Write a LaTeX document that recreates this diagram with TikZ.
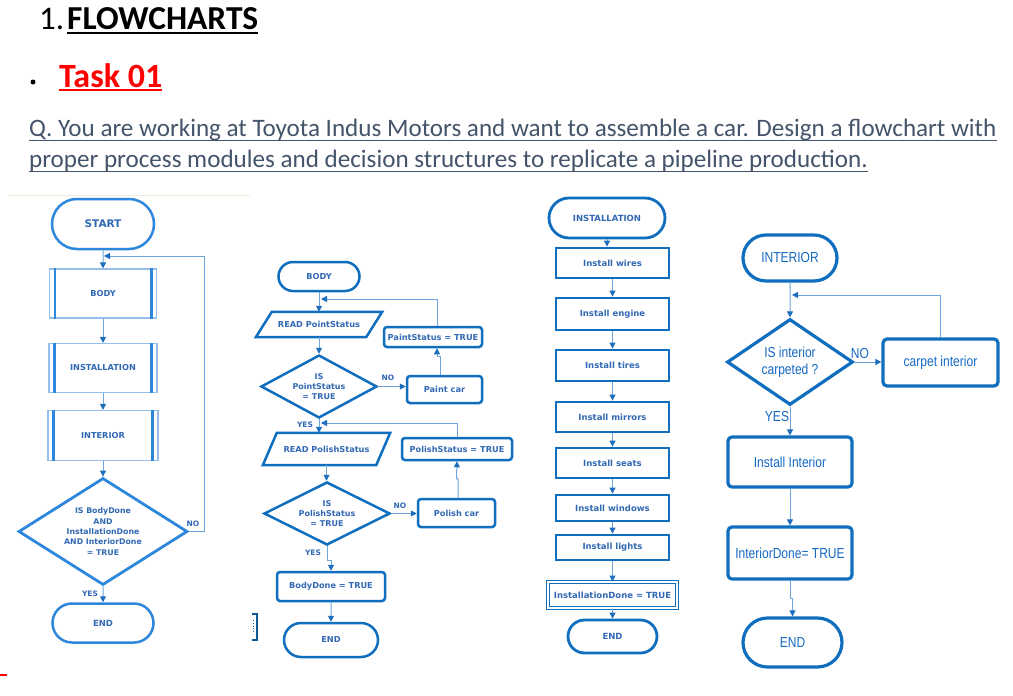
\documentclass[tikz,border=0pt]{standalone}
\usepackage{fontspec}
\setmainfont{Carlito}
\newfontfamily\dvfam{DejaVu Sans}
\newfontfamily\narfam[FakeStretch=0.83]{Liberation Sans}
\usetikzlibrary{shapes.geometric,shapes.misc,arrows.meta,calc}
\definecolor{boxblue}{RGB}{16,110,190}
\definecolor{cabl}{RGB}{45,135,220}
\definecolor{calight}{RGB}{150,190,235}
\definecolor{connblue}{RGB}{110,165,220}
\definecolor{tipblue}{RGB}{30,110,190}
\definecolor{txtblue}{RGB}{50,105,180}
\definecolor{cfourtxt}{RGB}{20,105,195}
\definecolor{qcol}{RGB}{68,84,106}
\definecolor{beige}{RGB}{245,235,220}
\newcommand\smallbf{\dvfam\bfseries\fontsize{8.2}{10}\selectfont}
\newcommand\colthreebf{\dvfam\bfseries\fontsize{8.5}{10}\selectfont}
\newcommand\narfont{\narfam\fontsize{14.5}{17}\selectfont}
\begin{document}
\begin{tikzpicture}[x=1pt,y=-1pt,
  conn/.style={draw=connblue, line width=1pt, -{Triangle[length=6pt,width=6pt,color=tipblue]}},
  tone/.style={rounded rectangle, draw=cabl, line width=2.5pt, inner sep=1pt, text=txtblue},
  ppro/.style={rectangle, draw=calight, line width=1.2pt, inner sep=1pt, text=txtblue, font=\smallbf},
  pbar/.style={draw=cabl, line width=2.8pt},
  done/.style={diamond, draw=cabl, line width=2.8pt, inner sep=0pt, text=txtblue, align=center, font=\dvfam\bfseries\fontsize{7.8}{10.3}\selectfont},
  lab/.style={inner sep=0pt, text=txtblue, font=\dvfam\bfseries\fontsize{7.5}{9}\selectfont},
  ttwo/.style={rounded rectangle, draw=boxblue, line width=2.5pt, inner sep=1pt, text=txtblue, font=\smallbf},
  prtwo/.style={rectangle, rounded corners=3pt, draw=boxblue, line width=2.5pt, inner sep=1pt, text=txtblue, font=\smallbf},
  pgnode/.style={rectangle, inner sep=0pt, text=txtblue, font=\smallbf},
  pgbox/.style={draw=boxblue, line width=2.5pt},
  dtwo/.style={diamond, draw=boxblue, line width=2.5pt, inner sep=0pt, text=txtblue, align=center, font=\dvfam\bfseries\fontsize{8}{10}\selectfont},
  tthree/.style={rounded rectangle, draw=boxblue, line width=2.8pt, inner sep=1pt, text=txtblue, font=\colthreebf},
  prthree/.style={rectangle, draw=boxblue, line width=2.8pt, inner sep=1pt, text=txtblue, font=\colthreebf, minimum width=113},
  tfour/.style={rounded rectangle, draw=boxblue, line width=3.2pt, inner sep=1pt, text=cfourtxt, font=\narfont},
  prfour/.style={rectangle, rounded corners=4pt, draw=boxblue, line width=3.2pt, inner sep=1pt, text=cfourtxt, font=\narfont},
  dfour/.style={diamond, draw=boxblue, line width=3.2pt, inner sep=0pt, text=cfourtxt, align=center, font=\narfam\fontsize{14.5}{17}\selectfont},
  labfour/.style={inner sep=0pt, text=cfourtxt, font=\narfont}
]
\useasboundingbox (0,0) rectangle (1013,696);
\fill[white] (0,0) rectangle (1013,696);

% ---------- header ----------
\node[anchor=base west, inner sep=0pt, font=\fontsize{33}{36}\selectfont] (hnum) at (39,30) {1.};
\node[anchor=base west, inner sep=0pt, font=\bfseries\fontsize{33.5}{36}\selectfont] (htitle) at (67,30) {FLOWCHARTS};
\draw[line width=2pt] ([yshift=-3pt]htitle.base west) -- ([yshift=-3pt]htitle.base east);
\fill (33,82) circle (2.5);
\node[anchor=base west, inner sep=0pt, text=red, font=\bfseries\fontsize{34}{36}\selectfont] (htask) at (59,87) {Task 01};
\draw[red, line width=2pt] ([yshift=-3pt]htask.base west) -- ([yshift=-3pt]htask.base east);
\node[anchor=base west, inner sep=0pt, text=qcol, font=\fontsize{25.1}{28}\selectfont] (qone) at (29,136) {Q. You are working at Toyota Indus Motors and want to assemble a car. Design a flowchart with};
\draw[qcol, line width=1.5pt] ([yshift=-4.5pt]qone.base west) -- ([yshift=-4.5pt]qone.base east);
\node[anchor=base west, inner sep=0pt, text=qcol, font=\fontsize{25.1}{28}\selectfont] (qtwo) at (29,167) {proper process modules and decision structures to replicate a pipeline production.};
\draw[qcol, line width=1.5pt] ([yshift=-4.5pt]qtwo.base west) -- ([yshift=-4.5pt]qtwo.base east);
\draw[beige, line width=1pt] (8,195) -- (250,195);

% ---------- column 1 ----------
\node[tone, minimum width=104, minimum height=50, font=\dvfam\bfseries\fontsize{10.5}{12}\selectfont] (start) at (103,224) {START};
\node[ppro, minimum width=107, minimum height=49] (bodyone) at (103,293.5) {BODY};
\node[ppro, minimum width=108, minimum height=49] (instone) at (103,368) {INSTALLATION};
\node[ppro, minimum width=110, minimum height=50] (intone) at (103,435.5) {INTERIOR};
\foreach \n in {bodyone,instone,intone}{
  \draw[pbar] ([xshift=6pt]\n.north west) -- ([xshift=6pt]\n.south west);
  \draw[pbar] ([xshift=-6pt]\n.north east) -- ([xshift=-6pt]\n.south east);
}
\node[done, minimum width=169, minimum height=107, aspect=1.58] (decone) at (103,531.5) {IS BodyDone\\AND\\InstallationDone\\AND InteriorDone\\= TRUE};
\node[tone, minimum width=103, minimum height=39, font=\dvfam\bfseries\fontsize{8.5}{10}\selectfont] (endone) at (103,623) {END};
\coordinate (jone) at (104,256);
\draw[conn] (start) -- (bodyone);
\draw[conn] (bodyone) -- (instone);
\draw[conn] (instone) -- (intone);
\draw[conn] (intone) -- (decone);
\draw[conn] (decone) -- (endone);
\draw[conn] (decone.east) -- ++(16,0) |- (jone);
\node[lab] (noone) at (193,524) {NO};
\node[lab] (yesone) at (90,594) {YES};

% ---------- column 2 ----------
\node[ttwo, minimum width=83, minimum height=29] (bodytwo) at (319,276.5) {BODY};
\node[pgnode, minimum width=126, minimum height=25] (rpoint) at (319,324.5) {READ PointStatus};
\draw[pgbox] ([xshift=16pt]rpoint.north west) -- (rpoint.north east) -- ([xshift=-16pt]rpoint.south east) -- (rpoint.south west) -- cycle;
\node[dtwo, minimum width=116, minimum height=63, aspect=1.84] (decpaint) at (319,386.5) {IS\\PointStatus\\= TRUE};
\node[prtwo, minimum width=75, minimum height=27] (paintcar) at (444.5,389.5) {Paint car};
\node[prtwo, minimum width=98, minimum height=20] (paintst) at (433,337) {PaintStatus = TRUE};
\node[pgnode, minimum width=127, minimum height=32] (rpolish) at (326.5,449) {READ PolishStatus};
\draw[pgbox] ([xshift=14pt]rpolish.north west) -- (rpolish.north east) -- ([xshift=-14pt]rpolish.south east) -- (rpolish.south west) -- cycle;
\node[dtwo, minimum width=126, minimum height=63, aspect=2] (decpolish) at (327,513.5) {IS\\PolishStatus\\= TRUE};
\node[prtwo, minimum width=77, minimum height=28] (polishcar) at (456.5,513) {Polish car};
\node[prtwo, minimum width=110, minimum height=22] (polishst) at (457,449) {PolishStatus = TRUE};
\node[prtwo, minimum width=108, minimum height=29] (bodydone) at (331,586.5) {BodyDone = TRUE};
\node[ttwo, minimum width=96, minimum height=34] (endtwo) at (331,640) {END};
\coordinate (jtwo) at (321,299);
\coordinate (jthree) at (321,423);
\draw[conn] (bodytwo.south) -- (bodytwo.south |- rpoint.north);
\draw[conn] (rpoint.south) -- (rpoint.south |- decpaint.north);
\draw[conn] (decpaint.east) -- (decpaint.east -| paintcar.west);
\draw[conn] ([xshift=-4.5pt]paintcar.north) -- ++(0,-18) -- ++(-3,0) -- ([xshift=4pt]paintst.south);
\draw[conn] ([xshift=4pt]paintst.north) |- (jtwo);
\draw[conn] (decpaint.south) -- (decpaint.south |- rpolish.north);
\draw[conn] (rpolish.south) -- (rpolish.south |- decpolish.north);
\draw[conn] (decpolish.east) -- (decpolish.east -| polishcar.west);
\draw[conn] ([xshift=1.5pt]polishcar.north) -- ++(0,-19) -- ++(-1.5,0) -- (polishst.south);
\draw[conn] (polishst.north) |- (jthree);
\draw[conn] (decpolish.south) -- ++(0,14) -| (bodydone.north);
\draw[conn] (bodydone) -- (endtwo);
\node[lab] (notwo) at (388,378) {NO};
\node[lab] (yestwo) at (305,425) {YES};
\node[lab] (nothree) at (400,506) {NO};
\node[lab] (yesthree) at (313,553) {YES};
\draw[draw=boxblue!80!black, line width=2pt] (252,614) -- (257,614) -- (257,640) -- (252,640);
\draw[draw=boxblue, line width=0.8pt, dotted] (253.5,620) -- (253.5,634);

% ---------- column 3 ----------
\node[tthree, minimum width=118, minimum height=40] (instthree) at (607,218) {INSTALLATION};
\node[prthree, minimum height=30] (wires) at (612.5,263) {Install wires};
\node[prthree, minimum height=32] (engine) at (612.5,314) {Install engine};
\node[prthree, minimum height=31] (tires) at (612.5,365.5) {Install tires};
\node[prthree, minimum height=30] (mirrors) at (612.5,417) {Install mirrors};
\node[prthree, minimum height=30] (seats) at (612.5,463) {Install seats};
\node[prthree, minimum height=26] (windows) at (612.5,508) {Install windows};
\node[prthree, minimum height=25] (lights) at (612.5,547.5) {Install lights};
\node[rectangle, draw=boxblue, line width=1pt, double=white, double distance=1.2pt, inner sep=1pt, text=txtblue, font=\colthreebf, minimum width=129, minimum height=26] (instdone) at (612.5,595) {InstallationDone = TRUE};
\node[tthree, minimum width=91, minimum height=33] (endthree) at (612.5,636.5) {END};
\draw[conn] (instthree.south) -- (instthree.south |- wires.north);
\draw[conn] (wires) -- (engine);
\draw[conn] (engine) -- (tires);
\draw[conn] (tires) -- (mirrors);
\draw[conn] (mirrors) -- (seats);
\draw[conn] (seats) -- (windows);
\draw[conn] (windows) -- (lights);
\draw[conn] (lights) -- (instdone);
\draw[conn] (instdone) -- (endthree);

% ---------- column 4 ----------
\node[tfour, minimum width=96, minimum height=46] (intfour) at (790,258) {INTERIOR};
\node[dfour, minimum width=126, minimum height=86, aspect=1.47] (carpq) at (790,362) {IS interior\\carpeted ?};
\node[prfour, minimum width=115, minimum height=47] (carpet) at (940.5,362.5) {carpet interior};
\node[prfour, minimum width=124, minimum height=50] (instint) at (790,462) {Install Interior};
\node[prfour, minimum width=124, minimum height=52] (intdone) at (790,553) {InteriorDone= TRUE};
\node[tfour, minimum width=101, minimum height=49] (endfour) at (792.5,642.5) {END};
\coordinate (jfour) at (792,295);
\draw[conn] (intfour) -- (carpq);
\draw[conn] (carpq.east) -- (carpq.east -| carpet.west);
\draw[conn] (carpet.north) |- (jfour);
\draw[conn] (carpq) -- (instint);
\draw[conn] (instint) -- (intdone);
\draw[conn] (intdone.south) -- ++(0,18) -| (endfour.north);
\node[labfour] (nofour) at (860,354) {NO};
\node[labfour] (yesfour) at (777,417) {YES};

% red mark
\draw[red, line width=2pt] (0,675) -- (7,675);
\end{tikzpicture}
\end{document}
